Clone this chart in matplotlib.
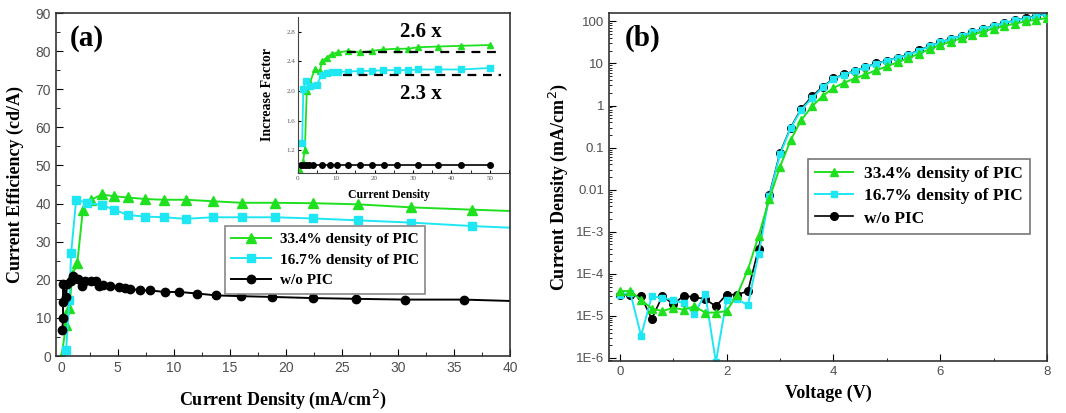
import matplotlib
matplotlib.use('Agg')
import matplotlib.pyplot as plt
from matplotlib.ticker import AutoMinorLocator, FixedLocator, NullFormatter
import numpy as np

# ---- panel (a): current efficiency vs current density ----
j_green = [0.0, 0.4, 0.7, 0.95, 1.4, 1.9, 2.65, 3.6, 4.7, 5.9, 7.4, 9.1, 11.1, 13.5, 16.1, 19.0, 22.4, 26.4, 31.2, 36.6, 40.5]
ce_green = [0.0, 8.2, 12.5, 21.3, 24.3, 38.4, 41.0, 42.4, 41.9, 41.6, 41.2, 41.0, 41.0, 40.6, 40.2, 40.2, 40.1, 39.8, 39.0, 38.4, 38.0]
mk_green = list(range(20))

j_cyan = [0.4, 0.7, 0.85, 1.3, 2.3, 3.6, 4.7, 5.9, 7.4, 9.1, 11.1, 13.5, 16.1, 19.0, 22.4, 26.4, 31.2, 36.6, 40.5]
ce_cyan = [1.5, 14.6, 27.0, 41.0, 40.2, 39.6, 38.4, 37.0, 36.6, 36.4, 36.0, 36.4, 36.4, 36.4, 36.1, 35.6, 35.0, 34.1, 33.6]
mk_cyan = list(range(18))

j_black = [0.07, 0.13, 0.13, 0.13, 0.4, 0.5, 0.8, 1.0, 1.5, 1.8, 2.1, 2.6, 3.1, 3.3, 3.7, 4.3, 5.1, 5.7, 6.1, 7.0, 7.9,
           9.2, 10.5, 12.1, 13.8, 16.0, 18.8, 22.4, 26.3, 30.6, 35.9, 40.5]
ce_black = [6.9, 9.9, 14.2, 19.0, 15.6, 19.0, 19.8, 21.1, 20.3, 18.5, 19.8, 19.6, 19.8, 18.5, 18.7, 18.5, 18.1, 17.9, 17.7, 17.2, 17.2,
            16.8, 16.8, 16.4, 15.9, 15.7, 15.5, 15.2, 15.0, 14.8, 14.8, 14.4]
mk_black = list(range(31))

# inset: increase factor
in_x_green = [0.5, 1.3, 1.8, 2.3, 3.1, 4.4, 5.7, 6.3, 7.5, 8.8, 10.4, 13.0, 16.2, 19.2, 22.2, 25.8, 28.7, 31.3, 36.6, 42.6, 50.0]
in_y_green = [0.92, 1.04, 1.2, 2.0, 2.11, 2.29, 2.27, 2.4, 2.45, 2.5, 2.52, 2.54, 2.52, 2.54, 2.56, 2.57, 2.57, 2.59, 2.6, 2.61, 2.62]
in_x_cyan = [1.1, 1.4, 2.1, 3.1, 4.9, 6.2, 7.5, 8.8, 10.4, 13.0, 16.2, 19.2, 22.2, 25.8, 28.7, 31.3, 36.6, 42.6, 50.0]
in_y_cyan = [1.3, 2.02, 2.14, 2.06, 2.08, 2.22, 2.24, 2.25, 2.26, 2.26, 2.27, 2.27, 2.28, 2.28, 2.28, 2.29, 2.29, 2.29, 2.31]
in_x_black = [0.7, 1.4, 2.1, 2.9, 4.0, 6.2, 8.4, 10.3, 13.1, 16.2, 19.2, 22.5, 25.9, 31.4, 36.6, 42.6, 50.0]
in_y_black = [1.0] * len(in_x_black)
ref_green = 2.53
ref_cyan = 2.22

# ---- panel (b): J-V ----
volt = [round(0.2 * i, 1) for i in range(41)]
jv_green = [3.9e-5, 3.9e-5, 2.4e-5, 1.5e-5, 1.3e-5, 1.56e-5, 1.4e-5, 1.7e-5, 1.2e-5, 1.2e-5, 1.3e-5, 3.2e-5, 1.26e-4,
            8e-4, 6e-3, 0.035, 0.15, 0.46, 0.95, 1.7, 2.6, 3.5, 4.4, 5.5, 6.9, 8.5, 10.7, 13.5, 17, 21.9, 27.5,
            33, 40, 48, 57.5, 67.6, 77.6, 89, 100, 110, 120]
jv_cyan = [3.2e-5, 3.5e-5, 3.4e-6, 2.9e-5, 2.7e-5, 2.4e-5, 2.0e-5, 1.1e-5, 3.4e-5, 8e-7, 2.4e-5, 2.5e-5, 1.8e-5,
           3e-4, 7e-3, 0.07, 0.29, 0.8, 1.5, 2.7, 4.3, 5.4, 6.6, 8.1, 9.8, 11.5, 13.5, 15.8, 20, 25.7, 31.6,
           38, 45.7, 55, 66, 77.6, 91, 105, 117, 132, 148]
jv_black = [3.2e-5, 3.2e-5, 2.9e-5, 8.5e-6, 3.0e-5, 1.9e-5, 3.0e-5, 2.8e-5, 2.5e-5, 1.7e-5, 3.2e-5, 3.2e-5, 3.9e-5,
            4e-4, 7.5e-3, 0.075, 0.3, 0.85, 1.65, 2.8, 4.4, 5.5, 6.7, 8.2, 10, 11.7, 13.8, 16.2, 20.5, 26, 32,
            38.5, 46, 55.5, 66.5, 78, 92, 106, 119, 135, 152]

labels = ['33.4% density of PIC', '16.7% density of PIC', 'w/o PIC']
c_green = '#1fe01f'
c_cyan = '#1ee6f2'
c_black = 'black'

serif = 'Liberation Serif'
sans = 'Liberation Sans'
tick_col = '#505050'

fig = plt.figure(figsize=(10.66, 4.13), dpi=100)

# ---------- (a) ----------
ax1 = fig.add_axes([0.0525, 0.138, 0.426, 0.8305])
ax1.plot(j_green, ce_green, color=c_green, marker='^', ms=6.5, lw=1.4, markevery=mk_green, label=labels[0])
ax1.plot(j_cyan, ce_cyan, color=c_cyan, marker='s', ms=5.5, lw=1.4, markevery=mk_cyan, label=labels[1])
ax1.plot(j_black, ce_black, color=c_black, marker='o', ms=6, lw=1.4, markevery=mk_black, label=labels[2])
ax1.set_xlim(-0.5, 40)
ax1.set_ylim(0, 90)
ax1.set_xticks(np.arange(0, 41, 5))
ax1.set_yticks(np.arange(0, 91, 10))
ax1.xaxis.set_minor_locator(AutoMinorLocator(2))
ax1.yaxis.set_minor_locator(AutoMinorLocator(2))
ax1.tick_params(which='both', direction='in', labelsize=10, labelcolor=tick_col)
ax1.tick_params(which='major', length=5)
ax1.tick_params(which='minor', length=3)
for lab in ax1.get_xticklabels() + ax1.get_yticklabels():
    lab.set_family(sans)
for s in ax1.spines.values():
    s.set_linewidth(1.2)
    s.set_color('#333333')
ax1.set_xlabel('Current Density (mA/cm$^2$)', family=serif, fontweight='bold', fontsize=13, labelpad=9)
ax1.set_ylabel('Current Efficiency (cd/A)', family=serif, fontweight='bold', fontsize=13, labelpad=8)
ax1.text(0.03, 0.965, '(a)', transform=ax1.transAxes, family=serif, fontweight='bold', fontsize=21, va='top')
leg1 = ax1.legend(loc='upper left', bbox_to_anchor=(0.355, 0.4), prop={'family': serif, 'weight': 'bold', 'size': 11},
                  handlelength=2.6, fancybox=False, framealpha=1, edgecolor='#888888',
                  borderpad=0.4, labelspacing=0.45, handletextpad=0.6)
leg1.get_frame().set_linewidth(1.2)

# inset
axi = fig.add_axes([0.2795, 0.581, 0.199, 0.378])
axi.set_facecolor('none')
axi.plot(in_x_green, in_y_green, color=c_green, marker='^', ms=4.5, lw=1.3)
axi.plot(in_x_cyan, in_y_cyan, color=c_cyan, marker='s', ms=3.8, lw=1.3)
axi.plot(in_x_black, in_y_black, color=c_black, marker='o', ms=4, lw=1.2)
axi.plot([12.8, 53], [ref_green, ref_green], color='black', ls=(0, (4, 3)), lw=1.6)
axi.plot([11.7, 53], [ref_cyan, ref_cyan], color='black', ls=(0, (4, 3)), lw=1.6)
axi.set_xlim(0, 55.3)
axi.set_ylim(0.89, 3.0)
axi.set_xticks(np.arange(0, 51, 10))
axi.set_yticks([1.2, 1.6, 2.0, 2.4, 2.8])
axi.xaxis.set_minor_locator(AutoMinorLocator(2))
axi.tick_params(which='both', direction='in', labelsize=5, labelcolor='#555555', length=2.5, pad=2)
for lab in axi.get_xticklabels() + axi.get_yticklabels():
    lab.set_family(serif)
for side in ['top', 'right']:
    axi.spines[side].set_visible(False)
for side in ['left', 'bottom']:
    axi.spines[side].set_color('#444444')
axi.set_xlabel('Current Density', family=serif, fontweight='bold', fontsize=8.5)
axi.xaxis.set_label_coords(0.43, -0.1)
axi.set_ylabel('Increase Factor', family=serif, fontweight='bold', fontsize=10, labelpad=9)
axi.text(32, 2.8, '2.6 x', family=serif, fontweight='bold', fontsize=15, ha='center', va='center')
axi.text(32, 1.96, '2.3 x', family=serif, fontweight='bold', fontsize=15, ha='center', va='center')

# ---------- (b) ----------
ax2 = fig.add_axes([0.5713, 0.126, 0.411, 0.843])
ax2.plot(volt, jv_green, color=c_green, marker='^', ms=6, lw=1.4, label=labels[0], zorder=3)
ax2.plot(volt, jv_cyan, color=c_cyan, marker='s', ms=5, lw=1.4, label=labels[1], zorder=2)
ax2.plot(volt, jv_black, color=c_black, marker='o', ms=5.5, lw=1.2, label=labels[2], zorder=1)
ax2.set_yscale('log')
ax2.set_xlim(-0.2, 8)
ax2.set_ylim(8.5e-7, 160)
ax2.set_xticks([0, 2, 4, 6, 8])
ax2.xaxis.set_minor_locator(AutoMinorLocator(2))
yt = [1e-6, 1e-5, 1e-4, 1e-3, 0.01, 0.1, 1, 10, 100]
ax2.yaxis.set_major_locator(FixedLocator(yt))
ax2.set_yticklabels(['1E-6', '1E-5', '1E-4', '1E-3', '0.01', '0.1', '1', '10', '100'])
ax2.yaxis.set_minor_formatter(NullFormatter())
ax2.tick_params(which='both', direction='in', labelsize=9.5, labelcolor=tick_col)
ax2.tick_params(which='major', length=5)
ax2.tick_params(which='minor', length=2.5)
for lab in ax2.get_xticklabels() + ax2.get_yticklabels():
    lab.set_family(sans)
for s in ax2.spines.values():
    s.set_linewidth(1.2)
    s.set_color('#333333')
ax2.set_xlabel('Voltage (V)', family=serif, fontweight='bold', fontsize=13, labelpad=5)
ax2.set_ylabel('Current Density (mA/cm$^2$)', family=serif, fontweight='bold', fontsize=13, labelpad=4)
ax2.text(0.035, 0.965, '(b)', transform=ax2.transAxes, family=serif, fontweight='bold', fontsize=21, va='top')
leg2 = ax2.legend(loc='upper left', bbox_to_anchor=(0.435, 0.605), prop={'family': serif, 'weight': 'bold', 'size': 12.5},
                  handlelength=2.2, fancybox=False, framealpha=1, edgecolor='#777777',
                  borderpad=0.4, labelspacing=0.35, handletextpad=0.6)
leg2.get_frame().set_linewidth(1.2)

fig.savefig('out.png', dpi=100)
